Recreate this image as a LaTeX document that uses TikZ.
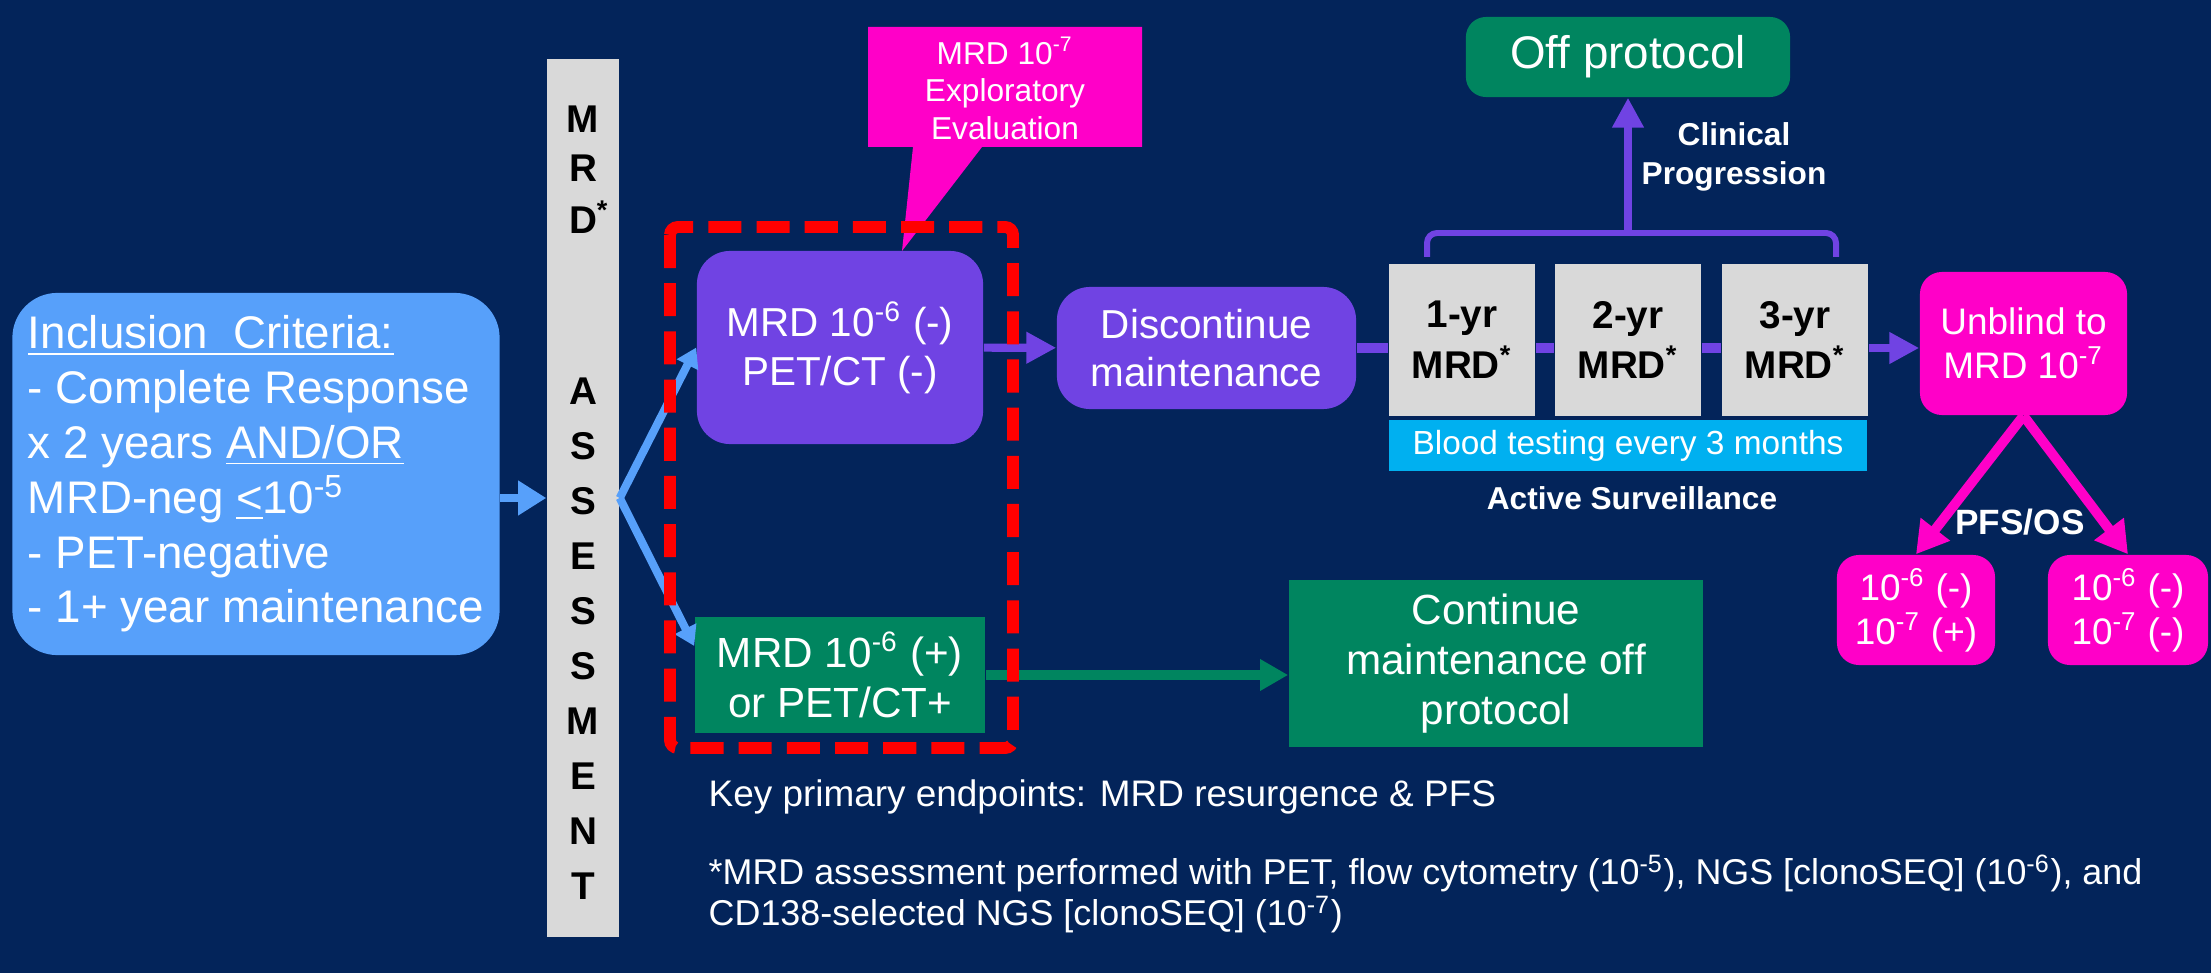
\documentclass[tikz,border=0pt]{standalone}
\usepackage{fontspec}
\setmainfont{Liberation Sans}
\usepackage{tikz}
\usetikzlibrary{arrows.meta}

\definecolor{navy}{HTML}{03245A}
\definecolor{skyblue}{HTML}{57A0FA}
\definecolor{lavender}{HTML}{7043E3}
\definecolor{trialgreen}{HTML}{00855F}
\definecolor{hotpink}{HTML}{FF00C8}
\definecolor{bargrey}{HTML}{D9D9D9}
\definecolor{bandblue}{HTML}{00B0F0}

\begin{document}
\begin{tikzpicture}[x=0.01cm, y=-0.01cm,
    every node/.style={inner sep=0pt, text=white},
    inclbox/.style={fill=skyblue, rounded corners=0.45cm, align=left,
      minimum width=4.87cm, minimum height=3.62cm, font=\fontsize{13}{15.6}\selectfont},
    purplebox/.style={fill=lavender, rounded corners=0.33cm, align=center,
      font=\fontsize{11.5}{13.8}\selectfont},
    greenbox/.style={fill=trialgreen, align=center, font=\fontsize{12}{14.2}\selectfont},
    pinkbox/.style={fill=hotpink, rounded corners=0.22cm, align=center,
      font=\fontsize{10.5}{12.6}\selectfont},
    yearbox/.style={fill=bargrey, text=black, align=center, minimum width=1.46cm,
      minimum height=1.52cm, font=\bfseries\fontsize{11}{14.4}\selectfont},
    barletter/.style={text=black, font=\bfseries\fontsize{11}{13}\selectfont},
    boldlabel/.style={align=center, font=\bfseries\fontsize{9}{11.1}\selectfont},
    skyarrow/.style={skyblue, line width=2.3pt, -{Triangle[width=9.4pt, length=8pt]}},
    skyline/.style={skyblue, line width=2.3pt, -{Triangle[width=6.5pt, length=5.5pt]}},
    purplearrow/.style={lavender, line width=2.3pt, -{Triangle[width=8.5pt, length=8.5pt]}},
    purpleline/.style={lavender, line width=3pt},
    greenarrow/.style={trialgreen, line width=2.6pt, -{Triangle[width=8.5pt, length=8pt]}},
    pinkarrow/.style={hotpink, line width=2.8pt, -{Triangle[width=10pt, length=9pt]}},
    redframe/.style={red, line width=3.4pt, dash pattern=on 9.4pt off 4.3pt, rounded corners=0.08cm}
  ]
  \useasboundingbox (0,0) rectangle (2211,973);
  \fill [navy] (0,0) rectangle (2211,973);

  \node [inclbox] (incl) at (256,474) {\underline{Inclusion\ \ Criteria:}\\
    - Complete Response\\
    x 2 years \underline{AND/OR}\\
    MRD-neg \underline{<}10\textsuperscript{-5}\\
    - PET-negative\\
    - 1+ year maintenance};

  \node [fill=bargrey, minimum width=0.72cm, minimum height=8.77cm] (bar) at (583,498) {};
  \node [barletter] (top1) at (583,119) {M};
  \node [barletter] (top2) at (583,168) {R};
  \node [barletter] (top3) at (583,217) {D\rlap{\textsuperscript{*}}};
  \foreach \ch [count=\i from 0] in {A,S,S,E,S,S,M,E,N,T}
    \node [barletter] (word\i) at (583,{391+55*\i}) {\ch};

  \node [purplebox, minimum width=2.86cm, minimum height=1.93cm] (pneg) at (840,347.5)
    {MRD 10\textsuperscript{-6} (-)\\PET/CT (-)};
  \node [greenbox, minimum width=2.9cm, minimum height=1.15cm] (ppos) at (840,675)
    {MRD 10\textsuperscript{-6} (+)\\or PET/CT+};
  \node [purplebox, minimum width=2.99cm, minimum height=1.22cm] (disc) at (1206.5,348)
    {Discontinue\\maintenance};
  \node [greenbox, minimum width=4.14cm, minimum height=1.67cm] (cont) at (1496,663.5)
    {Continue\\maintenance off\\protocol};
  \node [greenbox, rounded corners=0.2cm, minimum width=3.24cm, minimum height=0.8cm,
    font=\fontsize{13}{15.6}\selectfont] (offp) at (1628,57) {Off protocol};

  \node [yearbox] (y1) at (1462,340) {1-yr\\MRD\textsuperscript{*}};
  \node [yearbox] (y2) at (1628,340) {2-yr\\MRD\textsuperscript{*}};
  \node [yearbox] (y3) at (1795,340) {3-yr\\MRD\textsuperscript{*}};
  \node [fill=bandblue, minimum width=4.78cm, minimum height=0.51cm,
    font=\fontsize{9.5}{11.4}\selectfont] (band) at (1628,445.5) {Blood testing every 3 months};
  \node [boldlabel] (surv) at (1632,498) {Active Surveillance};
  \node [boldlabel] (clin) at (1734,157) {Clinical\\Progression};

  \node [pinkbox, minimum width=2.07cm, minimum height=1.43cm] (unbl) at (2023.5,343.5)
    {Unblind to\\MRD 10\textsuperscript{-7}};
  \node [pinkbox, minimum width=1.58cm, minimum height=1.1cm] (m1) at (1916,610)
    {10\textsuperscript{-6} (-)\\10\textsuperscript{-7} (+)};
  \node [pinkbox, minimum width=1.6cm, minimum height=1.1cm] (m2) at (2128,610)
    {10\textsuperscript{-6} (-)\\10\textsuperscript{-7} (-)};
  \node [boldlabel, font=\bfseries\fontsize{10}{12}\selectfont] (pfs) at (2020,522) {PFS/OS};

  \draw [skyarrow] (incl.east |- bar.west) -- (bar.west);
  \draw [skyline] (bar.east) -- (pneg.west);
  \draw [skyline] (bar.east) -- ([yshift=0.29cm]ppos.west);
  \draw [purplearrow] (pneg) -- (disc);
  \draw [greenarrow] (ppos.east) -- (ppos.east -| cont.west);

  \draw [purpleline] (disc.east) -- (disc.east -| y1.west);
  \draw [purpleline] (disc.east -| y1.east) -- (disc.east -| y2.west);
  \draw [purpleline] (disc.east -| y2.east) -- (disc.east -| y3.west);
  \draw [purplearrow] (disc.east -| y3.east) -- (disc.east -| unbl.west);

  \draw [lavender, line width=1.7pt, rounded corners=0.1cm]
    (1427,257) -- (1427,233) -- (1836,233) -- (1836,257);
  \coordinate (brk) at (1628,233);
  \draw [purplearrow] (brk) -- (offp.south);

  \draw [pinkarrow] (unbl.south) -- (m1.north);
  \draw [pinkarrow] (unbl.south) -- (m2.north);

  \fill [hotpink] (868,27) -- (1142,27) -- (1142,147) -- (982,147) -- (902,251)
    -- (913,147) -- (868,147) -- cycle;
  \node [align=center, font=\fontsize{9}{10.6}\selectfont] (note) at (1005,88)
    {MRD 10\textsuperscript{-7}\\Exploratory\\Evaluation};

  \draw [redframe] (670,227) rectangle (1013,748);

  \node [anchor=west, font=\fontsize{10.5}{12.6}\selectfont] (endpts) at (708,797)
    {Key primary endpoints: MRD resurgence \& PFS};
  \node [anchor=west, align=left, font=\fontsize{10.2}{10.6}\selectfont] (fnote) at (708,894)
    {*MRD assessment performed with PET, flow cytometry (10\textsuperscript{-5}), NGS [clonoSEQ] (10\textsuperscript{-6}), and\\
     CD138-selected NGS [clonoSEQ] (10\textsuperscript{-7})};
\end{tikzpicture}
\end{document}
